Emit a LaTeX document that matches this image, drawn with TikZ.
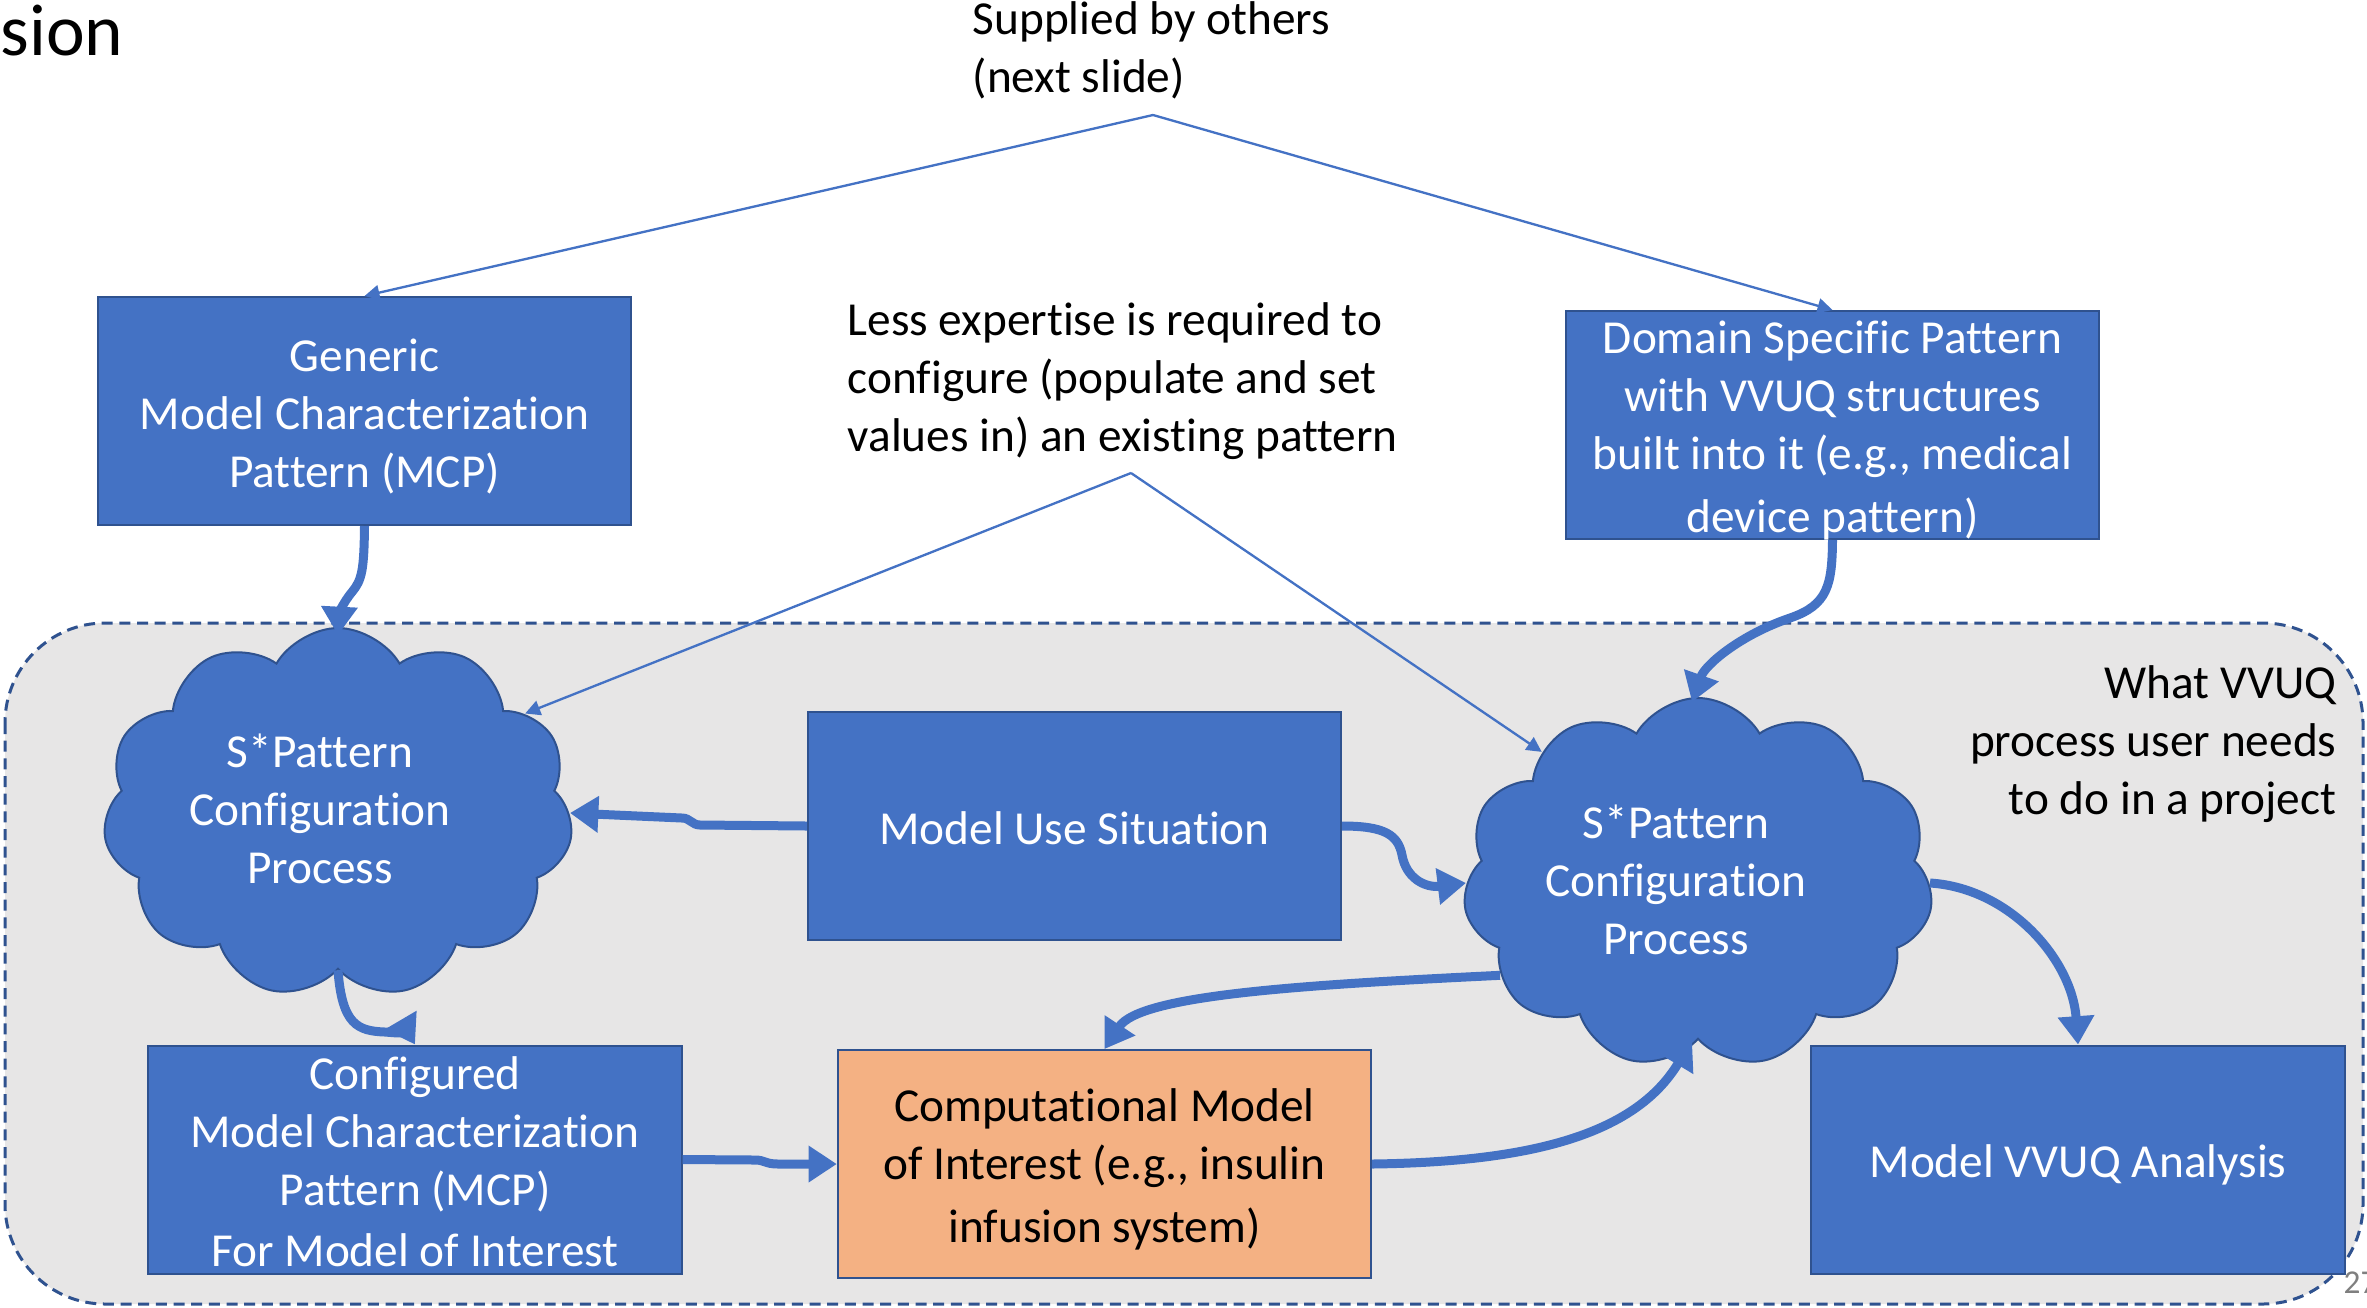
\documentclass[tikz,border=0pt]{standalone}
\usepackage{fontspec}
\setmainfont{Carlito}[Ligatures={NoCommon},Contextuals={NoAlternate}]
\usetikzlibrary{shapes.symbols,arrows.meta,calc}
\definecolor{pblue}{HTML}{4472C4}
\definecolor{pdark}{HTML}{2F528F}
\definecolor{porange}{HTML}{F4B183}
\definecolor{pgray}{HTML}{E7E6E6}
\definecolor{pnum}{HTML}{7F7F7F}
\newcommand{\pstrut}{\rule[-4.5pt]{0pt}{20pt}}
\begin{document}
\begin{tikzpicture}[x=0.3pt,y=-0.3pt,
  body/.style={font=\fontsize{14.2}{17.4}\selectfont,inner sep=0pt},
  box/.style={body,inner ysep=-3pt,draw=pdark,line width=0.6pt,fill=pblue,text=white,align=center,minimum width=160pt,minimum height=68.4pt},
  obox/.style={box,fill=porange,text=black},
  puff/.style={cloud,cloud puffs=11,cloud puff arc=120,cloud ignores aspect,draw=pdark,line width=0.6pt,fill=pblue,minimum width=141pt,minimum height=111pt,inner sep=0pt},
  cloudtxt/.style={body,text=white,align=center},
  txt/.style={body,text=black},
  thickarrow/.style={draw=pblue,line width=2.7pt,-{Triangle[width=10.5pt,length=8.5pt]}},
  thinarrow/.style={draw=pblue,line width=0.7pt,-{Triangle[width=4.5pt,length=4.5pt]}}
]
\useasboundingbox (0,0) rectangle (2367,1307);
% background region
\draw[fill=pgray,draw=pdark,line width=0.9pt,dash pattern=on 3.3pt off 2pt,rounded corners=30pt] (5,623) rectangle (2363,1304);

\node[txt,anchor=base west,font=\fontsize{22}{26}\selectfont] (title) at (0,55) {sion};
\node[txt,anchor=base west,text=pnum,font=\fontsize{10}{12}\selectfont] (pg) at (2343,1293) {27};

\node[txt,anchor=west,align=left] (sup) at (972,50) {Supplied by others\\(next slide)};
\node[txt,anchor=west,align=left] (less) at (847,381) {Less expertise is required to\\configure (populate and set\\values in) an existing pattern};
\node[txt,anchor=east,align=right] (what) at (2337,744) {What VVUQ\\process user needs\\to do in a project};

\node[box] (gen) at (364.5,411) {\pstrut Generic\\Model Characterization\\Pattern (MCP)\pstrut};
\node[box] (dom) at (1832.5,425) {\pstrut Domain Specific Pattern\\with VVUQ structures\\built into it (e.g., medical\\device pattern)\pstrut};
\node[box] (mus) at (1074.5,826) {\pstrut Model Use Situation};
\node[box] (cfg) at (415,1159.5) {\pstrut Configured\\Model Characterization\\Pattern (MCP)\\For Model of Interest\pstrut};
\node[obox] (cmp) at (1104.5,1164) {\pstrut Computational Model\\of Interest (e.g., insulin\\infusion system)\pstrut};
\node[box] (vva) at (2078,1159.5) {\pstrut Model VVUQ Analysis};

\node[puff] (lc) at (338,813) {};
\node[cloudtxt] (lct) at (320,809) {S*Pattern\\Configuration\\Process};
\node[puff] (rc) at (1698,883) {};
\node[cloudtxt] (rct) at (1676,880) {S*Pattern\\Configuration\\Process};

% thin callout lines
\coordinate (apexA) at (1153,115);
\draw[thinarrow] (apexA) -- (gen.north);
\draw[thinarrow] (apexA) -- (dom.north);
\coordinate (apexB) at (1131,473);
\draw[thinarrow] (apexB) -- (lc.28);
\draw[thinarrow] (apexB) -- (rc.140);

% thick arrows
\draw[thickarrow] (gen.south) .. controls (364,570) and (362,580) .. (352,592) .. controls (342,604) and (339,615) .. ($(lc.north)+(0,8)$);
\draw[thickarrow] (dom.south) .. controls (1832,585) and (1828,605) .. (1790,618) .. controls (1740,635) and (1705,665) .. ($(rc.north)+(-6,5)$);
\draw[thickarrow] (mus.west) -- (700,825) .. controls (692,825) and (690,818) .. (682,818) -- (lc.east);
\draw[thickarrow] (mus.east) .. controls (1385,826) and (1398,835) .. (1402,855) .. controls (1406,878) and (1425,888) .. (rc.west);
\draw[thickarrow] (lc.south) .. controls (342,1025) and (358,1031) .. (385,1032) .. controls (400,1033) and (410,1036) .. (cfg.north);
\draw[thickarrow] (cfg.east) -- (755,1160) .. controls (765,1160) and (765,1164) .. (778,1164) -- (cmp.west);
\draw[thickarrow] (rc.205) .. controls (1300,985) and (1140,995) .. (cmp.north);
\draw[thickarrow] (cmp.east) .. controls (1530,1162) and (1635,1135) .. ($(rc.south)+(-6,0)$);
\draw[thickarrow] (rc.east) .. controls (2010,888) and (2072,960) .. (vva.north);
\end{tikzpicture}
\end{document}
